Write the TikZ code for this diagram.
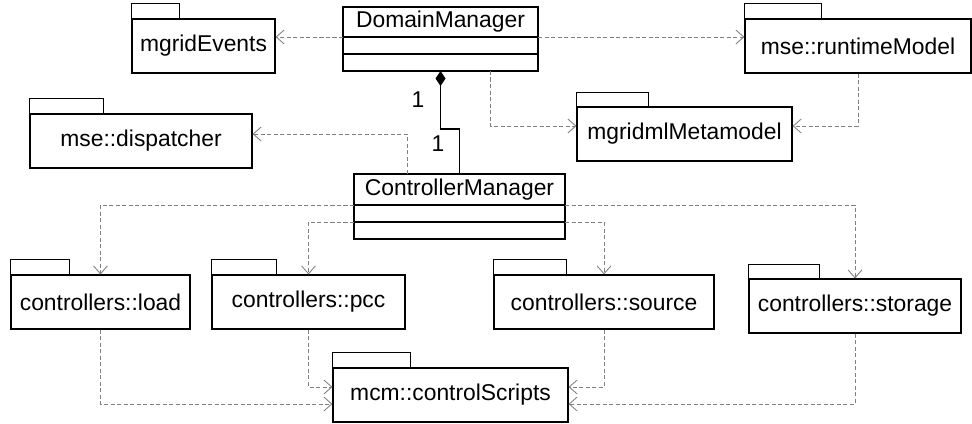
\documentclass[tikz,border=0pt]{standalone}
\usepackage{fontspec}
\setmainfont{Liberation Sans}
\usetikzlibrary{positioning,calc,arrows.meta}
\begin{document}
\begin{tikzpicture}[every node/.style={font=\fontsize{13}{15}\selectfont},
  pkgbox/.style={draw,line width=0.6pt,minimum width=#1,minimum height=1.08cm,inner sep=0pt},
  namebox/.style={draw,line width=0.6pt,minimum width=#1,minimum height=0.6cm,inner sep=0pt,outer sep=0pt},
  compbox/.style={draw,line width=0.6pt,minimum width=#1,minimum height=0.34cm,inner sep=0pt,outer sep=0pt},
  dep/.style={draw=gray,line width=0.5pt,dash pattern=on 2.3pt off 1.4pt,-{Straight Barb[length=0.16cm,width=0.28cm]}}]
\useasboundingbox (0,0) rectangle (19.44,8.46);
% classes
\node[namebox=3.9cm] (dm) at (8.81,8.02) {DomainManager};
\node[compbox=3.9cm,below=0pt of dm] (dm2) {};
\node[compbox=3.9cm,below=0pt of dm2] (dm3) {};
\node[namebox=4.22cm,minimum height=0.62cm] (cm) at (9.19,4.67) {ControllerManager};
\node[compbox=4.22cm,below=0pt of cm] (cm2) {};
\node[compbox=4.22cm,below=0pt of cm2] (cm3) {};
% packages
\node[pkgbox=2.86cm] (ev) at (4.07,7.54) {mgridEvents};
\node[pkgbox=4.52cm] (rt) at (17.16,7.54) {mse::runtimeModel};
\node[pkgbox=4.44cm] (dp) at (2.82,5.64) {mse::dispatcher};
\node[pkgbox=4.3cm] (ml) at (13.69,5.78) {mgridmlMetamodel};
\node[pkgbox=3.58cm] (ld) at (2.01,2.42) {controllers::load};
\node[pkgbox=3.86cm] (pc) at (6.17,2.42) {controllers::pcc};
\node[pkgbox=4.4cm] (so) at (12.08,2.42) {controllers::source};
\node[pkgbox=4.24cm] (st) at (17.10,2.34) {controllers::storage};
\node[pkgbox=4.7cm] (cs) at (9.01,0.56) {mcm::controlScripts};
\draw[line width=0.6pt] (ev.north west) rectangle ++(0.96,0.3);
\draw[line width=0.6pt] (rt.north west) rectangle ++(1.54,0.3);
\draw[line width=0.6pt] (dp.north west) rectangle ++(1.48,0.3);
\draw[line width=0.6pt] (ml.north west) rectangle ++(1.44,0.28);
\draw[line width=0.6pt] (ld.north west) rectangle ++(1.18,0.3);
\draw[line width=0.6pt] (pc.north west) rectangle ++(1.3,0.3);
\draw[line width=0.6pt] (so.north west) rectangle ++(1.46,0.3);
\draw[line width=0.6pt] (st.north west) rectangle ++(1.42,0.28);
\draw[line width=0.6pt] (cs.north west) rectangle ++(1.56,0.3);
% composition
\draw[line width=0.6pt,{Diamond[length=0.3cm,width=0.2cm]}-] (dm3.south) -- ++(0,-1.16) -| (cm.north);
\node at (8.36,6.46) {1};
\node at (8.76,5.58) {1};
% dependencies
\draw[dep] (dm.south west) -- (dm.south west -| ev.east);
\draw[dep] (dm.south east) -- (dm.south east -| rt.west);
\draw[dep] ($(dm3.south)+(1,0)$) |- ($(ml.west)+(0,0.16)$);
\draw[dep] (rt.south) |- ($(ml.east)+(0,0.16)$);
\draw[dep] ($(cm.north)+(-1.05,0)$) |- ($(dp.east)+(0,0.14)$);
\draw[dep] (cm2.north west) -| (ld.north);
\draw[dep] (cm3.north west) -| (pc.north);
\draw[dep] (cm3.north east) -| (so.north);
\draw[dep] (cm2.north east) -| (st.north);
\draw[dep] (ld.south) |- ($(cs.west)+(0,-0.18)$);
\draw[dep] (pc.south) |- ($(cs.west)+(0,0.16)$);
\draw[dep] (so.south) |- ($(cs.east)+(0,0.16)$);
\draw[dep] (st.south) |- ($(cs.east)+(0,-0.18)$);
\end{tikzpicture}
\end{document}
